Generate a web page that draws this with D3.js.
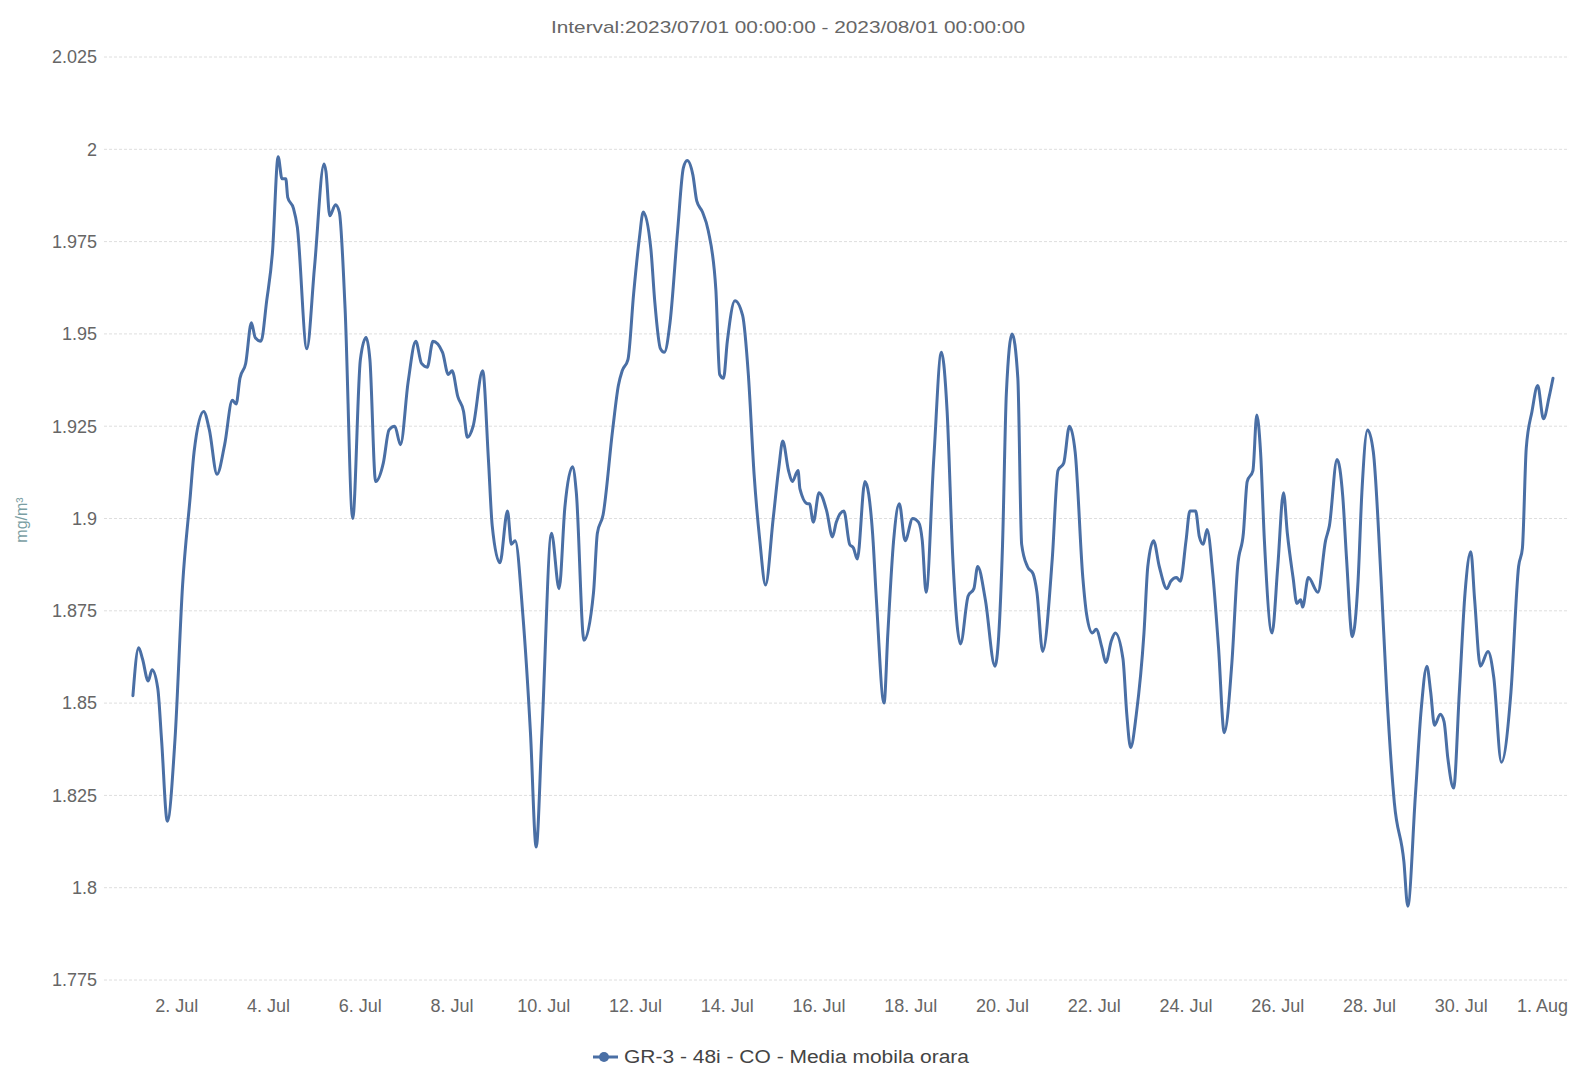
<!DOCTYPE html>
<html><head><meta charset="utf-8">
<script src="https://cdn.jsdelivr.net/npm/d3@7"></script>
<style>
html,body{margin:0;padding:0;background:#fff;}
svg{display:block;font-family:"Liberation Sans",Arial,sans-serif;}
</style></head>
<body><svg id="c" width="1569" height="1070"></svg>
<script>
const chartTitle = "Interval:2023/07/01 00:00:00 - 2023/08/01 00:00:00";
const seriesName = "GR-3 - 48i - CO - Media mobila orara";
const yTitle = "mg/m³";
const startDate = "2023-07-01T00:00:00Z";
const endDate = "2023-08-01T00:00:00Z";
const yTicks = [1.775,1.8,1.825,1.85,1.875,1.9,1.925,1.95,1.975,2,2.025];
const xTickDates = ["2023-07-02","2023-07-04","2023-07-06","2023-07-08","2023-07-10","2023-07-12","2023-07-14","2023-07-16","2023-07-18","2023-07-20","2023-07-22","2023-07-24","2023-07-26","2023-07-28","2023-07-30","2023-08-01"];
// [hours since 2023-07-01 00:00, CO mg/m³]
const series = [
[1,1.852],[4,1.865],[6,1.862],[9,1.856],[11,1.859],[14,1.854],[16,1.840],[19,1.818],[23,1.840],[27,1.882],
[31,1.906],[33,1.918],[38,1.929],[41,1.924],[45,1.912],[49,1.920],[53,1.932],[55,1.931],[57,1.938],[60,1.942],
[63,1.953],[65,1.949],[68,1.948],[71,1.959],[74,1.972],[77,1.998],[79,1.992],[81,1.992],[82,1.987],[85,1.984],
[87,1.979],[92,1.946],[96,1.968],[101,1.996],[102,1.994],[104,1.982],[107,1.985],[109,1.983],[112,1.957],[116,1.900],
[120,1.943],[123,1.949],[125,1.943],[128,1.910],[132,1.915],[135,1.924],[138,1.925],[141,1.920],[145,1.937],[149,1.948],
[152,1.942],[155,1.941],[158,1.948],[163,1.945],[166,1.939],[168,1.940],[171,1.933],[174,1.929],[176,1.922],[179,1.925],
[184,1.940],[187,1.916],[189,1.898],[193,1.888],[197,1.902],[199,1.893],[201,1.894],[205,1.874],[209,1.842],[212,1.811],
[215,1.842],[220,1.896],[224,1.881],[227,1.903],[231,1.914],[233,1.907],[237,1.867],[242,1.880],[244,1.896],[247,1.901],
[252,1.924],[255,1.936],[257,1.940],[260,1.943],[263,1.961],[266,1.976],[268,1.983],[272,1.973],[274,1.959],[277,1.946],
[279,1.945],[282,1.953],[286,1.978],[289,1.995],[291,1.997],[294,1.993],[296,1.986],[299,1.983],[302,1.978],[306,1.962],
[308,1.939],[310,1.938],[312,1.948],[316,1.959],[320,1.955],[323,1.939],[326,1.912],[329,1.894],[332,1.882],[336,1.900],
[339,1.914],[341,1.921],[344,1.913],[346,1.910],[349,1.913],[350,1.908],[354,1.904],[355,1.904],[357,1.899],[360,1.907],
[364,1.902],[367,1.895],[369,1.899],[373,1.902],[376,1.893],[378,1.892],[380,1.889],[384,1.910],[388,1.896],[390,1.878],
[394,1.850],[396,1.869],[399,1.894],[402,1.904],[405,1.894],[409,1.900],[412,1.899],[414,1.894],[416,1.880],[420,1.916],
[424,1.945],[427,1.929],[430,1.889],[434,1.866],[438,1.879],[441,1.881],[443,1.887],[447,1.878],[452,1.860],[456,1.893],
[458,1.934],[461,1.950],[464,1.938],[466,1.893],[469,1.887],[472,1.885],[474,1.880],[477,1.864],[482,1.889],[485,1.913],
[488,1.915],[491,1.925],[494,1.918],[498,1.884],[500,1.874],[503,1.869],[505,1.870],[508,1.865],[510,1.861],[513,1.867],
[515,1.869],[519,1.862],[521,1.847],[523,1.838],[526,1.847],[530,1.869],[532,1.887],[535,1.894],[538,1.887],[542,1.881],
[544,1.883],[547,1.884],[549,1.883],[552,1.894],[554,1.902],[557,1.902],[559,1.895],[561,1.893],[563,1.897],[566,1.885],
[569,1.865],[572,1.842],[576,1.861],[579,1.887],[582,1.896],[584,1.910],[587,1.913],[589,1.928],[591,1.918],[593,1.894],
[597,1.869],[600,1.887],[603,1.907],[605,1.896],[608,1.884],[610,1.877],[612,1.878],[613,1.876],[616,1.884],[621,1.880],
[625,1.894],[627,1.898],[631,1.916],[634,1.906],[636,1.889],[639,1.868],[642,1.883],[644,1.907],[647,1.924],[650,1.918],
[654,1.884],[657,1.853],[661,1.823],[666,1.807],[668,1.795],[672,1.825],[675,1.848],[678,1.860],[680,1.853],[682,1.844],
[685,1.847],[687,1.845],[689,1.835],[692,1.827],[695,1.853],[698,1.880],[701,1.891],[703,1.878],[706,1.860],[710,1.864],
[713,1.857],[717,1.834],[722,1.853],[726,1.887],[728,1.892],[730,1.919],[733,1.929],[736,1.936],[739,1.927],[742,1.933],
[744,1.938]
];

const W = 1569, H = 1070;
const svg = d3.select("#c");
const t0 = new Date(startDate), t1 = new Date(endDate);
const x = d3.scaleUtc().domain([t0, t1]).range([131, 1553]);
const y = d3.scaleLinear().domain([1.775, 2.025]).range([980, 57]);
const gridLeft = 104, gridRight = 1569;

// grid
svg.append("g").selectAll("line").data(yTicks).join("line")
  .attr("x1", gridLeft).attr("x2", gridRight)
  .attr("y1", d => y(d)).attr("y2", d => y(d))
  .attr("stroke", "#dedede").attr("stroke-width", 1).attr("stroke-dasharray", "3,2");

// y labels
const fmt = d3.format("~g");
svg.append("g").selectAll("text").data(yTicks).join("text")
  .attr("x", 97).attr("y", d => y(d)).attr("dy", "0.35em")
  .attr("text-anchor", "end").attr("font-size", 18).attr("fill", "#666")
  .text(d => fmt(d));

// y title
svg.append("text").attr("transform", "translate(27,520) rotate(-90)")
  .attr("text-anchor", "middle").attr("font-size", 16).attr("fill", "#7a9ea3").text(yTitle);

// x labels
const fmtX = d3.utcFormat("%-d. %b");
const xl = svg.append("g").selectAll("text").data(xTickDates.map(s => new Date(s + "T00:00:00Z"))).join("text")
  .attr("x", d => x(d)).attr("y", 1012)
  .attr("text-anchor", "middle").attr("font-size", 18).attr("fill", "#666")
  .text(d => fmtX(d));
xl.each(function() {
  const b = this.getBBox();
  if (b.x + b.width > W - 1) {
    d3.select(this).attr("text-anchor", "end").attr("x", W - 1);
  }
});

// title
svg.append("text").attr("x", 788).attr("y", 33).attr("text-anchor", "middle")
  .attr("font-size", 17).attr("fill", "#666")
  .attr("textLength", 474).attr("lengthAdjust", "spacingAndGlyphs").text(chartTitle);

// line
const line = d3.line()
  .x(d => x(new Date(t0.getTime() + d[0] * 3600000)))
  .y(d => y(d[1]))
  .curve(d3.curveMonotoneX);
svg.append("path").datum(series).attr("d", line)
  .attr("fill", "none").attr("stroke", "#4a6fa5").attr("stroke-width", 3)
  .attr("stroke-linejoin", "round").attr("stroke-linecap", "round");

// legend
const lg = svg.append("g").attr("transform", "translate(0,1057)");
lg.append("line").attr("x1", 593).attr("x2", 618).attr("y1", 0).attr("y2", 0)
  .attr("stroke", "#4a6fa5").attr("stroke-width", 3);
lg.append("circle").attr("cx", 604).attr("cy", 0).attr("r", 5).attr("fill", "#4a6fa5");
lg.append("text").attr("x", 624).attr("y", 0).attr("dy", "0.35em")
  .attr("font-size", 18).attr("fill", "#444")
  .attr("textLength", 345).attr("lengthAdjust", "spacingAndGlyphs").text(seriesName);
</script></body></html>
